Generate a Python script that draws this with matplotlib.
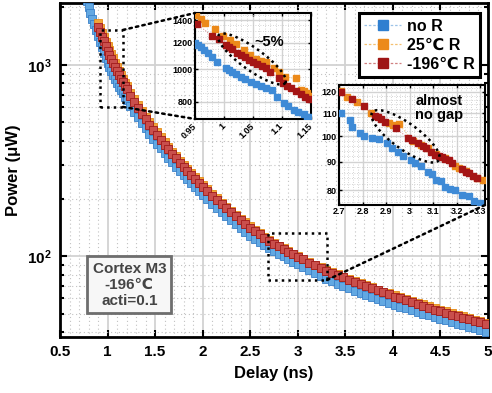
import numpy as np
import matplotlib
matplotlib.use('Agg')
import matplotlib.pyplot as plt
from matplotlib.ticker import MultipleLocator, FixedLocator, FuncFormatter, NullFormatter, LogLocator
from matplotlib.patches import ConnectionPatch, Rectangle
from matplotlib.lines import Line2D

plt.rcParams['font.family'] = ['Liberation Sans', 'DejaVu Sans']
plt.rcParams['font.weight'] = 'bold'
plt.rcParams['mathtext.fontset'] = 'custom'
plt.rcParams['mathtext.rm'] = 'Liberation Sans:bold'
plt.rcParams['mathtext.bf'] = 'Liberation Sans:bold'
plt.rcParams['mathtext.it'] = 'Liberation Sans:bold'
plt.rcParams['axes.unicode_minus'] = False

# ---------------- main data (delay in ns, power in uW) ----------------
delay_ns = [0.78, 0.80, 0.82, 0.84, 0.86, 0.88, 0.90, 0.92, 0.94, 0.96, 0.98, 1.00, 1.02, 1.04,
            1.06, 1.08, 1.10, 1.12, 1.14, 1.16, 1.18, 1.20,
            1.24, 1.28, 1.32, 1.36, 1.40, 1.44, 1.48, 1.52, 1.56, 1.60, 1.64, 1.68, 1.72, 1.76,
            1.80, 1.84, 1.88, 1.92, 1.96, 2.00,
            2.05, 2.10, 2.15, 2.20, 2.25, 2.30, 2.35, 2.40, 2.45, 2.50, 2.55, 2.60, 2.65, 2.70,
            2.75, 2.80, 2.85, 2.90, 2.95, 3.00,
            3.06, 3.12, 3.18, 3.24, 3.30, 3.36, 3.42, 3.48, 3.54, 3.60, 3.66, 3.72, 3.78, 3.84,
            3.90, 3.96, 4.02, 4.08, 4.14, 4.20, 4.26, 4.32, 4.38, 4.44, 4.50, 4.56, 4.62, 4.68,
            4.74, 4.80, 4.86, 4.92, 4.98]

power_noR = [2150, 2000, 1870, 1745, 1630, 1520, 1420, 1325, 1240, 1160, 1090, 1025, 980, 935,
             890, 845, 805, 770, 737, 710, 683, 658,
             611, 569, 532, 497, 466, 437, 411, 388, 366, 345, 327, 310, 294, 279,
             265, 253, 241, 230, 219, 209,
             199, 188, 179, 170, 162, 154, 147, 140, 134, 128, 123, 118.3, 114, 110,
             106.3, 102.8, 99.5, 96.4, 93.4, 91,
             87.7, 84.5, 81.5, 78.7, 76, 73.8, 71.7, 69.7, 67.8, 66.0, 64.4, 62.7, 61.2, 59.7,
             58.3, 56.9, 55.6, 54.4, 53.2, 52.1, 51.0, 49.9, 48.9, 47.9, 47.0, 46.1, 45.1, 44.3,
             43.4, 42.6, 41.8, 41.0, 40.2]

# R series start at 0.90 ns (index 6 of delay_ns)
r_start = 6
power_25R = [1660, 1565, 1478, 1400, 1323, 1250, 1192, 1139, 1085, 1030, 972, 928, 885, 844, 807, 775,
             716, 663, 617, 574, 536, 503, 472, 444, 418, 394, 372, 352, 333, 316, 300, 285, 272, 259, 247, 236,
             223, 211, 201, 190, 181, 173, 164, 157, 150, 143, 137, 131.5, 126.3, 121.2, 117, 113.4, 109.9,
             106.3, 102.8, 99.8,
             96.8, 93.3, 90.3, 87.6, 84.8, 82.5, 80.3, 78.1, 76.0, 74.0, 72.0, 70.2, 68.5, 66.8, 65.2, 63.7,
             62.4, 61.0, 59.6, 58.3, 57.0, 55.8, 54.6, 53.4, 52.3, 51.3, 50.2, 49.2, 48.3, 47.3, 46.4, 45.6, 44.8]

power_196R = [1580, 1490, 1405, 1330, 1255, 1185, 1130, 1080, 1030, 980, 930, 888, 848, 810, 775, 745,
              690, 640, 597, 556, 520, 488, 458, 431, 406, 383, 362, 343, 325, 308, 293, 279, 266, 254, 242, 231,
              219, 207, 197, 187, 178, 170, 162, 155, 148, 141, 135.5, 130, 125, 120, 116, 112.5, 109,
              105.5, 102, 99,
              96, 92.5, 89.5, 86.8, 84, 81.7, 79.5, 77.3, 75.2, 73.2, 71.3, 69.5, 67.8, 66.1, 64.5, 63.0,
              61.4, 60.0, 58.6, 57.3, 56.1, 54.9, 53.7, 52.5, 51.4, 50.4, 49.4, 48.4, 47.5, 46.6, 45.7, 44.9, 44.1]

# ---------------- inset 1 data (0.95 - 1.15 ns) ----------------
in1_x_noR = [0.950, 0.956, 0.960, 0.966, 0.972, 0.980, 0.988, 1.003, 1.008, 1.014, 1.020, 1.029, 1.036,
             1.046, 1.055, 1.063, 1.072, 1.083, 1.092, 1.103, 1.110, 1.121, 1.128, 1.138, 1.143, 1.148]
in1_y_noR = [1194, 1180, 1167, 1140, 1115, 1085, 1053, 1007, 995, 984, 970, 950, 935,
             918, 905, 892, 880, 868, 830, 793, 780, 757, 745, 735, 722, 720]
in1_x_25R = [0.951, 0.960, 0.968, 0.985, 0.999, 1.010, 1.020, 1.034, 1.045, 1.056, 1.064, 1.072,
             1.086, 1.095, 1.106, 1.124, 1.132, 1.138, 1.143, 1.148]
in1_y_25R = [1450, 1410, 1375, 1320, 1257, 1221, 1190, 1141, 1100, 1070, 1060, 1053,
             1008, 980, 948, 940, 868, 860, 848, 835]
in1_x_196R = [0.954, 0.979, 0.991, 1.003, 1.008, 1.014, 1.022, 1.029, 1.036, 1.043, 1.050, 1.057,
              1.065, 1.072, 1.080, 1.094, 1.101, 1.108, 1.115, 1.124, 1.132, 1.140, 1.147]
in1_y_196R = [1363, 1257, 1228, 1180, 1165, 1146, 1120, 1102, 1085, 1065, 1050, 1040,
              1022, 1007, 985, 940, 913, 895, 878, 860, 843, 828, 814]

# ---------------- inset 2 data (2.7 - 3.3 ns) ----------------
in2_x_noR = [2.707, 2.745, 2.755, 2.788, 2.805, 2.841, 2.870, 2.903, 2.927, 2.950, 2.970, 3.006, 3.024,
             3.050, 3.078, 3.095, 3.114, 3.132, 3.150, 3.170, 3.193, 3.222, 3.251, 3.275, 3.300]
in2_y_noR = [109.9, 106.9, 103.9, 101.1, 100, 99.2, 98.8, 97, 95.3, 93.7, 92, 90.6, 89.3,
             88.3, 86.3, 85.5, 83.4, 83, 80.9, 80.5, 80, 78.4, 78, 76.5, 75.8]
in2_x_25R = [2.707, 2.733, 2.776, 2.837, 2.913, 2.930, 2.955, 3.014, 3.050, 3.078, 3.110, 3.150,
             3.193, 3.210, 3.240, 3.287, 3.310]
in2_y_25R = [120.5, 117.5, 115.3, 109.9, 105.4, 104.5, 105, 98, 96.5, 95, 93, 91.3,
             88.3, 87.8, 86.5, 84.1, 83.5]
in2_x_196R = [2.707, 2.755, 2.805, 2.852, 2.865, 2.877, 2.895, 2.942, 2.995, 3.010, 3.035, 3.057,
              3.070, 3.090, 3.107, 3.125, 3.136, 3.150, 3.165, 3.180, 3.222, 3.240, 3.251, 3.270, 3.285]
in2_y_196R = [120, 116.6, 113.3, 108.6, 108, 107.2, 106, 103.2, 99.1, 98.3, 97.1, 96,
              95.2, 93.5, 92.4, 92, 91.6, 91, 90.6, 89.5, 87.1, 86.3, 85.7, 84.8, 84.2]

series_labels = ['no R', '25℃ R', '-196℃ R']
x_ticks = [0.5, 1, 1.5, 2, 2.5, 3, 3.5, 4, 4.5, 5]
in1_xticks = [0.95, 1.0, 1.05, 1.1, 1.15]
in1_yticks = [800, 1000, 1200, 1400]
in2_xticks = [2.7, 2.8, 2.9, 3.0, 3.1, 3.2, 3.3]
in2_yticks = [80, 90, 100, 110, 120]

# ---------------- styles ----------------
c_blue, c_orange, c_red = '#2f7fd0', '#ec8a1a', '#9e1414'

fig = plt.figure(figsize=(4.92, 3.93), dpi=100)
W, H = 492.0, 393.0
ax = fig.add_axes([60 / W, 56 / H, 428 / W, 334 / H])
ax.set_yscale('log')

x_r = delay_ns[r_start:]
ax.plot(delay_ns, power_noR, ls='none', marker='s', ms=6.2, mfc='#62a8e2', mec='#3a80c8', mew=0.6, zorder=3)
ax.plot(x_r, power_25R, ls='none', marker='s', ms=6.4, mfc='#f2a53a', mec='#e48a14', mew=0.6, zorder=3)
ax.plot(x_r, power_196R, ls='none', marker='s', ms=6.4, mfc='#c94f4c', mec='#a01a1a', mew=0.6, zorder=3)

ax.set_xlim(0.5, 5)
ax.set_ylim(37.7, 2110)
ax.xaxis.set_major_locator(FixedLocator(x_ticks))
ax.xaxis.set_minor_locator(MultipleLocator(0.1))
ax.xaxis.set_major_formatter(FuncFormatter(lambda v, p: f'{v:g}'))
ax.yaxis.set_major_locator(LogLocator(10))
ax.yaxis.set_minor_locator(LogLocator(10, subs=range(2, 10)))
ax.yaxis.set_major_formatter(FuncFormatter(lambda v, p: r'$\mathbf{10^{%d}}$' % round(np.log10(v))))
ax.yaxis.set_minor_formatter(NullFormatter())
ax.set_axisbelow(True)
ax.grid(which='major', color='#d2d2d2', lw=1.3, ls='-')
ax.grid(which='minor', color='#c2c2c2', lw=0.8, ls=(0, (1, 2.5)))
ax.tick_params(which='both', direction='in', top=True, right=True, width=1.5, colors='black')
ax.tick_params(which='major', length=5, labelsize=11, pad=6)
ax.tick_params(axis='x', which='minor', length=0)
ax.tick_params(axis='y', which='minor', length=3)
for s in ax.spines.values():
    s.set_linewidth(2)
ax.set_xlabel('Delay (ns)', fontsize=12, fontweight='bold', labelpad=5)
ax.set_ylabel('Power (μW)', fontsize=12, fontweight='bold', labelpad=4)

ax.text(0.162, 0.156, 'Cortex M3\n-196℃\nacti=0.1', transform=ax.transAxes, ha='center', va='center',
        fontsize=11, fontweight='bold', color='#454545', linespacing=1.2, zorder=6,
        bbox=dict(boxstyle='square,pad=0.35', fc='#f7f7f7', ec='#6e6e6e', lw=2))

handles = [Line2D([0], [0], color='#9cc3e8', ls=(0, (2, 1.5)), lw=0.9, marker='s', ms=6.5, mfc=c_blue, mec=c_blue),
           Line2D([0], [0], color='#f4c070', ls=(0, (2, 1.5)), lw=0.9, marker='s', ms=6.5, mfc=c_orange, mec=c_orange),
           Line2D([0], [0], color='#d08080', ls=(0, (2, 1.5)), lw=0.9, marker='s', ms=6.5, mfc=c_red, mec=c_red)]
leg = ax.legend(handles, series_labels, loc='upper right', bbox_to_anchor=(0.981, 0.97), frameon=True,
                fancybox=False, edgecolor='black', framealpha=1, handlelength=2.3, handletextpad=0.35,
                labelspacing=0.25, borderpad=0.35, borderaxespad=0.0, prop={'weight': 'bold', 'size': 11.5})
leg.get_frame().set_linewidth(2.2)
leg.set_zorder(10)

# zoom rectangles
ax.add_patch(Rectangle((0.92, 603), 1.162 - 0.92, 1525 - 603, fill=False, ls=':', lw=1.8, ec='black', zorder=5))
ax.add_patch(Rectangle((2.687, 74.9), 3.308 - 2.687, 132 - 74.9, fill=False, ls=':', lw=1.8, ec='black', zorder=5))

# ---------------- insets ----------------
def style_inset(a):
    a.set_yscale('log')
    a.set_axisbelow(True)
    a.grid(which='major', color='#d2d2d2', lw=1.0, ls='-')
    a.grid(which='minor', color='#c8c8c8', lw=0.6, ls=(0, (1, 2)))
    a.tick_params(which='both', direction='in', top=True, right=True, width=1.0)
    a.tick_params(which='major', length=2.5, labelsize=6.5, pad=1.5)
    a.tick_params(which='minor', length=0)
    for s in a.spines.values():
        s.set_linewidth(1.5)
    a.yaxis.set_minor_formatter(NullFormatter())

def inset_series(a, xs, ys):
    a.plot(xs[0], ys[0], ls=':', lw=0.7, color='#9cc3e8', marker='s', ms=3.8, mfc='#3e8ad6', mec='#3e8ad6', zorder=3)
    a.plot(xs[1], ys[1], ls=':', lw=0.7, color='#f4c070', marker='s', ms=3.8, mfc=c_orange, mec=c_orange, zorder=3)
    a.plot(xs[2], ys[2], ls=':', lw=0.7, color='#d08080', marker='s', ms=3.8, mfc='#a51515', mec='#a51515', zorder=4)

def dotted_ellipse(a, box, cx, cy, ra, rb, ang):
    left, top, w, h = box
    t = np.linspace(0, 2 * np.pi, 200)
    u, v = ra * np.cos(t), rb * np.sin(t)
    ph = np.deg2rad(ang)
    px = cx + u * np.cos(ph) - v * np.sin(ph)
    py = cy + u * np.sin(ph) + v * np.cos(ph)
    a.plot((px - left) / w, 1 - (py - top) / h, transform=a.transAxes, color='black', lw=1.8,
           ls=(0, (1, 1.5)), zorder=6, clip_on=False)

box1 = (195, 13, 116, 106)
ax1 = fig.add_axes([box1[0] / W, 1 - (box1[1] + box1[3]) / H, box1[2] / W, box1[3] / H])
style_inset(ax1)
inset_series(ax1, [in1_x_noR, in1_x_25R, in1_x_196R], [in1_y_noR, in1_y_25R, in1_y_196R])
ax1.set_xlim(0.95, 1.15)
ax1.set_ylim(712, 1470)
ax1.xaxis.set_major_locator(FixedLocator(in1_xticks))
ax1.xaxis.set_minor_locator(MultipleLocator(0.01))
ax1.yaxis.set_major_locator(FixedLocator(in1_yticks))
ax1.yaxis.set_minor_locator(FixedLocator(list(range(750, 1500, 50))))
ax1.yaxis.set_major_formatter(FuncFormatter(lambda v, p: f'{v:g}'))
ax1.xaxis.set_major_formatter(FuncFormatter(lambda v, p: f'{v:g}'))
for lab in ax1.get_xticklabels():
    lab.set_rotation(45)
    lab.set_ha('right')
    lab.set_va('center')
    lab.set_rotation_mode('anchor')
ax1.tick_params(axis='x', pad=4)
ax1.text(0.64, 0.73, '~5%', transform=ax1.transAxes, ha='center', va='center', fontsize=10.5, fontweight='bold', zorder=7)
dotted_ellipse(ax1, box1, 252, 59, 41, 11, 35.7)

box2 = (339, 85, 146, 120)
ax2 = fig.add_axes([box2[0] / W, 1 - (box2[1] + box2[3]) / H, box2[2] / W, box2[3] / H])
style_inset(ax2)
inset_series(ax2, [in2_x_noR, in2_x_25R, in2_x_196R], [in2_y_noR, in2_y_25R, in2_y_196R])
ax2.set_xlim(2.7, 3.32)
ax2.set_ylim(75.2, 123.5)
ax2.xaxis.set_major_locator(FixedLocator(in2_xticks))
ax2.xaxis.set_minor_locator(MultipleLocator(0.02))
ax2.yaxis.set_major_locator(FixedLocator(in2_yticks))
ax2.yaxis.set_minor_locator(FixedLocator(list(range(76, 124, 2))))
ax2.yaxis.set_major_formatter(FuncFormatter(lambda v, p: f'{v:g}'))
ax2.xaxis.set_major_formatter(FuncFormatter(lambda v, p: f'{v:g}'))
ax2.text(0.685, 0.81, 'almost\nno gap', transform=ax2.transAxes, ha='center', va='center', fontsize=10.5,
         fontweight='bold', linespacing=1.05, zorder=7)
dotted_ellipse(ax2, box2, 405.5, 136.3, 41, 13, 35.8)

# connectors
for xyA, xyB, axB in [((1.162, 1525), (0, 1), ax1), ((1.162, 603), (0, 0), ax1), ((3.308, 74.9), (1, 0), ax2)]:
    con = ConnectionPatch(xyA=xyA, coordsA='data', axesA=ax, xyB=xyB, coordsB='axes fraction', axesB=axB,
                          ls=':', lw=1.8, color='black')
    fig.add_artist(con)

fig.savefig('out.png', dpi=100)
